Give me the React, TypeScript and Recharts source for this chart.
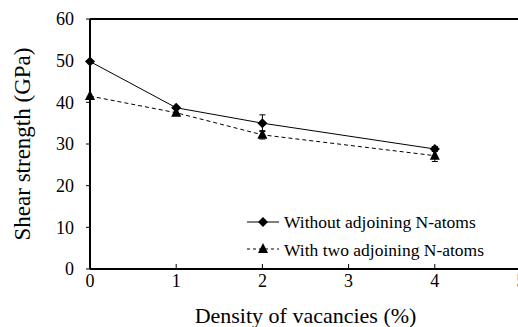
import React from 'react';
import {
  LineChart,
  Line,
  XAxis,
  YAxis,
  ErrorBar,
  ReferenceLine,
} from 'recharts';

// Vacancy density (%) on the x axis
const densities = [0, 1, 2, 4];
// Shear strength (GPa), vacancies without adjoining N-atoms
const withoutAdjoining = [49.8, 38.7, 35.0, 28.8];
const withoutAdjoiningErr = [0, 0, 2.0, 0.6];
// Shear strength (GPa), vacancies with two adjoining N-atoms
const withTwoAdjoining = [41.5, 37.5, 32.2, 27.2];
const withTwoAdjoiningErr = [0, 0, 1.0, 1.4];

const xTicks = [0, 1, 2, 3, 4, 5];
const yTicks = [0, 10, 20, 30, 40, 50, 60];

const seriesNames = ['Without adjoining N-atoms', 'With two adjoining N-atoms'];

const data = densities.map((d, i) => ({
  density: d,
  without: withoutAdjoining[i],
  withoutErr: withoutAdjoiningErr[i],
  withTwo: withTwoAdjoining[i],
  withTwoErr: withTwoAdjoiningErr[i],
}));

const FONT = '"Liberation Serif", "Times New Roman", serif';

const Diamond = (props: any) => {
  const { cx, cy } = props;
  if (cx == null || cy == null) return null;
  const r = 5;
  return (
    <path
      d={`M${cx},${cy - r} L${cx + r},${cy} L${cx},${cy + r} L${cx - r},${cy} Z`}
      fill="#000"
    />
  );
};

const Triangle = (props: any) => {
  const { cx, cy } = props;
  if (cx == null || cy == null) return null;
  const h = 10;
  const w = 10;
  return (
    <path
      d={`M${cx},${cy - h * 0.6} L${cx + w / 2},${cy + h * 0.4} L${cx - w / 2},${cy + h * 0.4} Z`}
      fill="#000"
    />
  );
};

// Two-row key placed inside the lower right of the plot
const SeriesKey = () => (
  <svg
    width={260}
    height={60}
    style={{ position: 'absolute', left: 247, top: 209, overflow: 'visible' }}
  >
    <g>
      <line x1={0} y1={13} x2={32} y2={13} stroke="#000" strokeWidth={1} />
      <Diamond cx={16} cy={13} />
      <text x={37} y={19} fontFamily={FONT} fontSize={17.5} fill="#000">
        {seriesNames[0]}
      </text>
    </g>
    <g>
      <line x1={0} y1={40} x2={32} y2={40} stroke="#000" strokeWidth={1} strokeDasharray="3 3" />
      <Triangle cx={16} cy={40} />
      <text x={37} y={47} fontFamily={FONT} fontSize={17.5} fill="#000">
        {seriesNames[1]}
      </text>
    </g>
  </svg>
);

export default function App() {
  return (
    <div
      style={{
        position: 'fixed',
        left: 0,
        top: 0,
        width: 518,
        height: 327,
        overflow: 'hidden',
        background: '#fff',
      }}
    >
      <LineChart
        width={540}
        height={327}
        data={data}
        margin={{ top: 19, right: 19, left: 0, bottom: 0 }}
      >
        <XAxis
          dataKey="density"
          type="number"
          domain={[0, 5]}
          ticks={xTicks}
          interval={0}
          height={58}
          axisLine={{ stroke: '#000', strokeWidth: 2 }}
          tickLine={{ stroke: '#000', strokeWidth: 1 }}
          tickSize={-5}
          tickMargin={10}
          tick={{ fill: '#000', fontFamily: FONT, fontSize: 18 }}
          label={{
            content: (p: any) => {
              const vb = p.viewBox || {};
              return (
                <text
                  x={vb.x + vb.width / 2}
                  y={323}
                  textAnchor="middle"
                  fontFamily={FONT}
                  fontSize={22}
                  fill="#000"
                >
                  Density of vacancies (%)
                </text>
              );
            },
          }}
        />
        <YAxis
          type="number"
          domain={[0, 60]}
          ticks={yTicks}
          interval={0}
          width={90}
          axisLine={{ stroke: '#000', strokeWidth: 2 }}
          tickLine={{ stroke: '#000', strokeWidth: 1 }}
          tickSize={4}
          tickMargin={12}
          tick={{ fill: '#000', fontFamily: FONT, fontSize: 18 }}
          label={{
            content: (p: any) => {
              const vb = p.viewBox || {};
              const cy = vb.y + vb.height / 2;
              return (
                <text
                  x={30}
                  y={cy}
                  transform={`rotate(-90, 30, ${cy})`}
                  textAnchor="middle"
                  fontFamily={FONT}
                  fontSize={23}
                  fill="#000"
                >
                  Shear strength (GPa)
                </text>
              );
            },
          }}
        />
        <ReferenceLine y={60} stroke="#000" strokeWidth={2} ifOverflow="visible" />
        <ReferenceLine x={5} stroke="#000" strokeWidth={2} ifOverflow="visible" />
        <Line
          dataKey="withTwo"
          name={seriesNames[1]}
          stroke="#000"
          strokeWidth={1}
          strokeDasharray="4 3"
          dot={<Triangle />}
          activeDot={false}
          isAnimationActive={false}
        >
          <ErrorBar dataKey="withTwoErr" direction="y" width={3} stroke="#000" strokeWidth={1} />
        </Line>
        <Line
          dataKey="without"
          name={seriesNames[0]}
          stroke="#000"
          strokeWidth={1}
          dot={<Diamond />}
          activeDot={false}
          isAnimationActive={false}
        >
          <ErrorBar dataKey="withoutErr" direction="y" width={3} stroke="#000" strokeWidth={1} />
        </Line>
      </LineChart>
      <SeriesKey />
    </div>
  );
}
